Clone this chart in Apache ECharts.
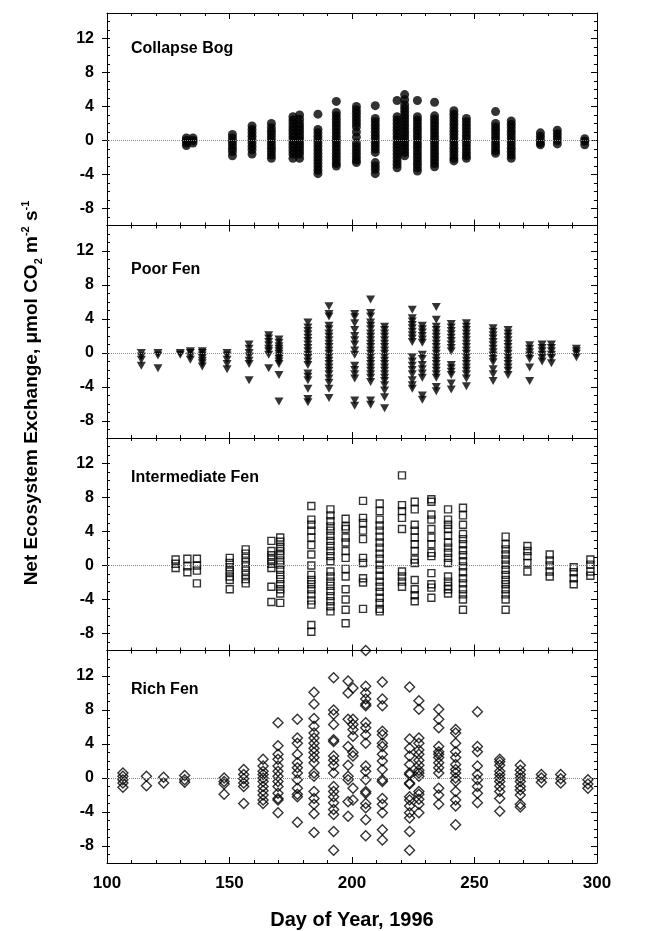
<!DOCTYPE html>
<html>
<head>
<meta charset="utf-8">
<script src="https://cdn.jsdelivr.net/npm/echarts@6/dist/echarts.min.js"></script>
<style>
  html, body { margin: 0; padding: 0; background: #fff; }
  #chart { width: 650px; height: 931px; }
</style>
</head>
<body>
<div id="chart"></div>
<script>
// ---- data (day of year, NEE umol CO2 m-2 s-1) ----
const panelNames = ['Collapse Bog', 'Poor Fen', 'Intermediate Fen', 'Rich Fen']

const xTickLabels = [100, 150, 200, 250, 300]
const yTickLabels = [-8, -4, 0, 4, 8, 12]

const bogDays = [132.4, 135.1, 151.2, 159.2, 167.1, 175.9, 178.6, 186.1, 193.6, 201.8, 209.5,
    218.4, 221.5, 226.7, 233.7, 241.6, 246.7, 258.6, 265, 276.9, 283.8, 295]
const bogValues = [
    [0.3, 0, -0.3, -0.6],
    [0.3, 0, -0.3],
    [0.7, 0.3, -0.1, -0.5, -0.9, -1.3, -1.8],
    [1.7, 1.3, 0.9, 0.5, 0.1, -0.3, -0.7, -1.1, -1.6],
    [2.0, 1.5, 1.1, 0.7, 0.3, -0.1, -0.5, -0.9, -1.3, -1.7, -2.1],
    [2.8, 2.4, 2.0, 1.6, 1.2, 0.8, 0.4, 0, -0.4, -0.8, -1.2, -1.6, -2.1],
    [3.0, 2.5, 2.0, 1.6, 1.2, 0.8, 0.4, 0, -0.4, -0.8, -1.2, -1.6, -2.1],
    [3.1, 1.3, 0.9, 0.5, 0.1, -0.3, -0.7, -1.1, -1.5, -1.9, -2.3, -2.7, -3.1, -3.5, -3.9],
    [4.6, 3.3, 2.9, 2.5, 2.1, 1.7, 1.3, 0.9, 0.5, 0.1, -0.3, -0.7, -1.1, -1.5, -1.9, -2.3, -2.7, -3.0],
    [4.0, 3.6, 3.2, 2.8, 2.4, 2.0, 1.6, 1.0, 0.4, -0.3, -0.7, -1.1, -1.5, -1.9, -2.3, -2.6],
    [4.1, 2.6, 2.2, 1.8, 1.4, 1.0, 0.6, 0.2, -0.2, -0.6, -1.0, -1.4, -2.6, -3.0, -3.4, -3.9],
    [4.7, 2.8, 2.4, 2.0, 1.6, 1.2, 0.8, 0.4, 0, -0.4, -0.8, -1.2, -1.6, -2.0, -2.4, -2.8, -3.2],
    [5.4, 4.8, 4.2, 3.8, 3.4, 3.0, 2.6, 2.2, 1.8, 1.4, 1.0, 0.6, 0.2, -0.2, -0.6, -1.0, -1.4, -1.8],
    [4.7, 2.8, 2.4, 2.0, 1.6, 1.2, 0.8, 0.4, 0, -0.4, -0.8, -1.2, -1.6, -2.0, -2.4, -2.8, -3.2, -3.6],
    [4.5, 2.9, 2.5, 2.1, 1.7, 1.3, 0.9, 0.5, 0.1, -0.3, -0.7, -1.1, -1.5, -1.9, -2.3, -2.7, -3.1],
    [3.5, 3.1, 2.7, 2.3, 1.9, 1.5, 1.1, 0.7, 0.3, -0.1, -0.5, -0.9, -1.3, -1.7, -2.1, -2.4],
    [2.6, 2.2, 1.8, 1.4, 1.0, 0.6, 0.2, -0.2, -0.6, -1.0, -1.4, -1.8, -2.1],
    [3.4, 2.0, 1.6, 1.2, 0.8, 0.4, 0, -0.4, -0.8, -1.2, -1.5],
    [2.3, 1.9, 1.5, 1.1, 0.7, 0.3, -0.1, -0.5, -0.9, -1.3, -1.7, -2.1],
    [0.9, 0.5, 0.1, -0.3, -0.5],
    [1.2, 0.8, 0.4, 0, -0.4],
    [0.2, -0.1, -0.5]
]

const poorDays = [114, 120.8, 129.9, 134, 138.9, 149, 158, 166, 170.2, 182, 190.6, 201.1, 207.6,
    213.3, 224.6, 228.7, 234.4, 240.5, 246.7, 257.6, 263.7, 272.5, 277.6, 281.4, 291.6]
const poorValues = [
    [0, -0.4, -0.8, -1.5],
    [0, -0.3, -1.8],
    [0, -0.2],
    [0.2, 0, -0.4, -0.8],
    [0.2, 0, -0.3, -0.6, -0.9, -1.2, -1.6],
    [0, -0.3, -0.8, -1.3, -1.9],
    [1.0, 0.5, 0, -0.4, -0.9, -1.3, -3.2],
    [2.1, 1.7, 1.3, 0.9, 0.5, 0.2, -0.2, -1.8],
    [1.6, 1.2, 0.8, 0.5, 0.2, -0.1, -0.4, -0.7, -1.0, -1.3, -2.6, -5.7],
    [3.6, 3.0, 2.6, 2.2, 1.8, 1.4, 1.0, 0.6, 0.2, -0.2, -0.6, -1.0, -1.4, -2.4, -2.8, -3.2, -4.2, -5.4, -5.8],
    [5.5, 4.6, 4.3, 3.2, 2.8, 2.3, 1.9, 1.5, 1.1, 0.7, 0.3, -0.1, -0.5, -0.9, -1.3, -1.7, -2.1, -2.5, -3.0, -3.5, -4.2, -5.3],
    [4.6, 4.2, 3.5, 2.7, 2.0, 1.5, 1.0, 0.3, -0.2, -1.5, -2.0, -2.5, -3.0, -5.6, -6.2],
    [6.3, 4.7, 4.3, 3.6, 3.2, 2.8, 2.3, 1.9, 1.5, 1.1, 0.7, 0.3, -0.1, -0.5, -0.9, -1.3, -1.7, -2.1, -2.5, -2.9, -3.4, -5.6, -6.1],
    [3.1, 2.7, 2.3, 1.9, 1.5, 1.1, 0.7, 0.3, -0.1, -0.5, -0.9, -1.3, -1.7, -2.1, -2.5, -2.9, -3.3, -3.8, -4.4, -5.2, -6.5],
    [5.1, 4.1, 3.7, 3.3, 2.9, 2.5, 2.1, 1.7, 1.3, -0.5, -1.0, -1.5, -2.0, -2.5, -3.2, -3.8, -4.2],
    [3.2, 2.8, 2.4, 2.0, 1.6, 1.2, -0.2, -0.7, -1.4, -1.9, -2.4, -2.9, -5.0, -5.5],
    [5.4, 3.9, 3.1, 2.7, 2.3, 1.9, 1.5, 1.1, 0.7, 0.3, -0.1, -0.5, -0.9, -1.3, -1.7, -2.1, -2.5, -2.9, -4.0, -4.5],
    [3.4, 3.0, 2.6, 2.2, 1.8, 1.4, 1.0, 0.6, 0.2, -1.4, -1.8, -2.2, -2.6, -3.6, -4.3],
    [3.5, 3.1, 2.7, 2.3, 1.9, 1.5, 1.1, 0.7, 0.3, -0.1, -0.5, -0.9, -1.3, -1.7, -2.1, -2.5, -3.0, -3.9],
    [2.9, 2.5, 2.1, 1.7, 1.3, 0.9, 0.5, 0.1, -0.3, -0.7, -1.1, -1.9, -2.5, -3.3],
    [2.7, 2.3, 1.9, 1.5, 1.1, 0.7, 0.3, -0.1, -0.5, -0.9, -1.3, -1.7, -2.1, -2.6],
    [0.9, 0.5, 0.1, -0.3, -0.7, -1.7, -3.3],
    [1.0, 0.6, 0.2, -0.2, -0.6, -1.0],
    [1.0, 0.6, 0.2, -0.2, -0.6, -1.2],
    [0.5, 0.2, -0.1, -0.5]
]

const interDays = [128, 132.8, 136.7, 150.1, 156.6, 167.1, 170.7, 183.4, 191.2, 197.4, 204.5,
    211.3, 220.4, 225.6, 232.4, 239.2, 245.3, 262.7, 271.6, 280.7, 290.5, 297.3]
const interValues = [
    [0.7, 0.2, -0.3],
    [0.8, -0.1, -0.8],
    [0.8, 0, -0.6, -2.1],
    [0.9, 0.3, -0.2, -0.7, -1.3, -1.7, -2.8],
    [1.9, 1.4, 0.9, 0.4, -0.1, -0.6, -1.1, -1.6, -2.1],
    [2.9, 1.7, 1.2, 0.7, 0.2, -0.3, -2.5, -4.3],
    [3.3, 2.8, 2.2, 1.7, 1.2, 0.6, 0.1, -0.5, -1.1, -1.6, -2.2, -2.8, -3.3, -4.4],
    [7.0, 5.4, 4.8, 4.1, 3.3, 2.4, 1.3, 0.0, -1.1, -1.7, -2.2, -2.8, -3.4, -4.1, -4.6, -7.0, -7.8],
    [6.6, 5.9, 5.2, 4.6, 4.1, 3.5, 2.9, 2.3, 1.7, 1.1, 0.5, -0.7, -1.3, -1.9, -2.4, -3.0, -3.6, -4.2, -4.8, -5.4],
    [5.5, 4.6, 4.3, 3.3, 2.7, 1.7, 0.9, -0.4, -1.3, -2.8, -4.0, -5.2, -6.8],
    [7.6, 5.6, 5.0, 4.1, 3.1, 0.9, 0.3, -1.5, -2.0, -5.1],
    [7.3, 6.4, 5.4, 4.7, 4.1, 3.4, 2.7, 2.1, 1.4, 0.8, 0.1, -0.5, -1.2, -1.9, -2.5, -3.1, -3.8, -4.4, -5.1, -5.4],
    [10.6, 7.1, 6.4, 5.6, 4.3, -0.7, -1.3, -1.9, -2.5],
    [7.5, 6.6, 4.8, 4.1, 3.3, 2.5, 1.7, 0.7, 0.3, -1.7, -2.8, -3.5, -4.2],
    [7.8, 7.5, 6.0, 5.4, 4.3, 3.3, 2.5, 1.5, 1.1, -0.9, -2.2, -2.6, -3.8],
    [6.6, 5.4, 4.8, 4.3, 3.5, 2.7, 2.1, 1.5, 0.9, 0.3, -1.3, -1.9, -2.4, -2.8, -3.3],
    [6.8, 5.9, 4.8, 3.7, 3.1, 2.5, 1.8, 1.2, 0.5, -0.1, -0.8, -1.5, -2.1, -2.8, -3.4, -4.0, -5.2],
    [3.4, 2.5, 1.9, 1.3, 0.7, 0.1, -0.5, -1.1, -1.7, -2.2, -2.8, -3.4, -4.0, -5.2],
    [2.3, 1.7, 1.1, 0.3, -0.7],
    [1.3, 0.6, 0, -0.7, -1.3],
    [-0.2, -0.8, -1.5, -2.2],
    [0.7, 0.1, -0.7, -1.2]
]

const richDays = [106.5, 116.1, 123.1, 131.7, 147.8, 155.8, 163.7, 169.8, 177.7, 184.5, 192.5,
    198.4, 200.4, 205.6, 212.4, 223.5, 227.3, 235.4, 242.3, 251.2, 260.3, 268.7, 277.3, 285.2, 296.3]
const richValues = [
    [0.6, 0.2, -0.2, -0.6, -1.1],
    [0.2, -0.9],
    [0.1, -0.6],
    [0.3, -0.2, -0.5],
    [0, -0.4, -0.7, -1.9],
    [1.0, 0.4, -0.1, -0.6, -1.0, -3.0],
    [2.2, 1.4, 0.8, 0.4, 0, -0.4, -1.0, -1.5, -2.0, -2.6, -3.0],
    [6.5, 3.8, 2.8, 2.2, 1.4, 0.8, 0.2, -0.4, -1.0, -1.8, -2.4, -2.6, -4.1],
    [6.9, 4.7, 4.1, 2.8, 1.8, 1.2, 0.6, -0.2, -1.2, -1.9, -2.2, -5.2],
    [10.1, 8.7, 7.0, 6.1, 5.3, 4.7, 4.1, 3.5, 3.0, 2.4, 1.8, 0.6, 0.2, -1.6, -2.4, -3.1, -4.2, -6.4],
    [11.8, 8.0, 7.5, 6.3, 4.5, 4.3, 2.6, 2.1, 1.5, 0.6, -1.0, -1.6, -2.2, -2.9, -3.7, -4.3, -6.3, -8.5],
    [11.4, 10.0, 6.9, 3.7, 1.5, 0.2, -0.2, -2.8, -4.5],
    [10.6, 6.9, 6.3, 5.7, 4.9, 3.0, 2.6, -1.2, -2.6],
    [15, 10.8, 10.0, 9.3, 8.7, 8.5, 6.5, 5.9, 5.1, 4.1, 1.4, 0.8, -0.2, -1.6, -1.8, -3.0, -3.5, -4.9, -6.8],
    [11.3, 9.3, 8.5, 5.5, 5.1, 4.1, 3.7, 2.8, 2.0, 1.0, -0.2, -0.4, -2.4, -3.1, -4.1, -6.1, -7.3],
    [10.7, 4.6, 3.5, 2.6, 1.6, 0.6, 0.4, -0.6, -0.7, -2.2, -2.6, -3.3, -4.1, -4.7, -6.3, -8.5],
    [9.1, 8.1, 4.7, 4.1, 3.3, 2.8, 2.1, 1.5, 0.9, 0.6, 0.2, -1.6, -1.9, -2.5, -3.1, -4.1],
    [8.1, 6.9, 5.9, 3.7, 3.1, 2.8, 2.4, 1.8, 1.2, 0.6, -1.2, -2.0, -3.1],
    [5.7, 5.3, 4.1, 3.1, 2.4, 1.6, 1.0, 0.6, 0, -0.4, -1.6, -2.6, -3.3, -5.5],
    [7.8, 3.7, 3.1, 1.4, 0.4, -0.2, -1.0, -1.8, -2.9],
    [2.2, 1.9, 1.5, 0.8, 0.4, 0, -0.4, -1.0, -1.6, -2.4, -3.9],
    [1.5, 0.9, 0.4, 0, -0.4, -1.0, -1.4, -2.0, -3.1, -3.4],
    [0.4, 0, -0.5],
    [0.4, -0.1, -0.6],
    [-0.2, -0.7, -1.2]
]

// ---- build ----
function toPoints(days, values){
    let pts = []
    days.forEach((d, i) => {
        values[i].forEach(v => pts.push([d, v]))
    })
    return pts
}

const panels = [
    { data: toPoints(bogDays, bogValues), symbol: 'circle', size: 9, filled: true, rotate: 0 },
    { data: toPoints(poorDays, poorValues), symbol: 'triangle', size: [9, 8], filled: true, rotate: 180 },
    { data: toPoints(interDays, interValues), symbol: 'rect', size: 7, filled: false, rotate: 0 },
    { data: toPoints(richDays, richValues), symbol: 'diamond', size: [10, 10], filled: false, rotate: 0 }
]

const tops = [13, 225.5, 438, 650.5]
const labelY = [49, 270, 478, 690]
const majorY = yTickLabels
const tickFont = { color: '#000', fontFamily: 'Liberation Sans, Arial', fontWeight: 'bold' }

let grids = [], xAxes = [], yAxes = [], series = [], graphics = []

panels.forEach((p, i) => {
    const last = i === panels.length - 1
    grids.push({ left: 107, right: 53, top: tops[i], height: 212.5 })

    ;['bottom', 'top'].forEach(pos => {
        xAxes.push({
            gridIndex: i, type: 'value', position: pos,
            min: 100, max: 300, interval: 50,
            axisLine: { onZero: false, lineStyle: { color: '#000', width: 1 } },
            axisTick: { inside: true, length: 6, lineStyle: { color: '#000', width: 1 } },
            minorTick: { show: true, splitNumber: 5, length: 3, lineStyle: { color: '#000', width: 1 } },
            splitLine: { show: false },
            minorSplitLine: { show: false },
            axisLabel: Object.assign({ show: last && pos === 'bottom', fontSize: 17, margin: 12,
                customValues: xTickLabels }, tickFont)
        })
    })

    // left: minor ticks every unit + labels, then major ticks outside
    yAxes.push({
        gridIndex: i, type: 'value', position: 'left', min: -10, max: 15, interval: 1,
        axisLine: { onZero: false, lineStyle: { color: '#000', width: 1 } },
        axisTick: { inside: true, length: 3, lineStyle: { color: '#000' } },
        splitLine: { show: false },
        axisLabel: Object.assign({ fontSize: 16, margin: 13, customValues: yTickLabels }, tickFont)
    })
    yAxes.push({
        gridIndex: i, type: 'value', position: 'left', min: -10, max: 15, interval: 1,
        axisLine: { show: false, onZero: false },
        axisTick: { inside: false, length: 5, customValues: majorY, lineStyle: { color: '#000' } },
        splitLine: { show: false },
        axisLabel: { show: false }
    })
    // right border ticks
    yAxes.push({
        gridIndex: i, type: 'value', position: 'right', min: -10, max: 15, interval: 1,
        axisLine: { onZero: false, lineStyle: { color: '#000', width: 1 } },
        axisTick: { inside: true, length: 3, lineStyle: { color: '#000' } },
        splitLine: { show: false },
        axisLabel: { show: false }
    })
    yAxes.push({
        gridIndex: i, type: 'value', position: 'right', min: -10, max: 15, interval: 1,
        axisLine: { show: false, onZero: false },
        axisTick: { inside: true, length: 6, customValues: majorY, lineStyle: { color: '#000' } },
        splitLine: { show: false },
        axisLabel: { show: false }
    })

    series.push({
        type: 'scatter',
        xAxisIndex: 2 * i,
        yAxisIndex: 4 * i,
        data: p.data,
        symbol: p.symbol,
        symbolSize: p.size,
        symbolRotate: p.rotate,
        clip: false,
        silent: true,
        animation: false,
        itemStyle: p.filled
            ? { color: '#000', borderWidth: 0 }
            : { color: 'rgba(0,0,0,0)', borderColor: '#000', borderWidth: 1.4 },
        markLine: {
            silent: true,
            symbol: ['none', 'none'],
            label: { show: false },
            lineStyle: { type: 'dotted', color: '#888', width: 1 },
            data: [{ yAxis: 0 }],
            animation: false
        }
    })

    graphics.push({
        type: 'text', x: 131, y: labelY[i],
        style: { text: panelNames[i], fill: '#000', font: 'bold 16px "Liberation Sans", Arial',
            verticalAlign: 'middle' }
    })
})

graphics.push({
    type: 'text', x: 352, y: 920,
    style: { text: 'Day of Year, 1996', fill: '#000', font: 'bold 20px "Liberation Sans", Arial',
        align: 'center', verticalAlign: 'middle' }
})
graphics.push({
    type: 'text', x: 32, y: 393, rotation: Math.PI / 2,
    style: {
        text: 'Net Ecosystem Exchange, μmol CO{sub|2} m{sup|-2} s{sup|-1}',
        fill: '#000',
        fontFamily: 'Liberation Sans, Arial', fontWeight: 'bold', fontSize: 19,
        lineHeight: 24,
        align: 'center', verticalAlign: 'middle',
        rich: {
            sub: { fontFamily: 'Liberation Sans, Arial', fontWeight: 'bold', fontSize: 11, lineHeight: 12, verticalAlign: 'bottom' },
            sup: { fontFamily: 'Liberation Sans, Arial', fontWeight: 'bold', fontSize: 11, lineHeight: 12, verticalAlign: 'top' }
        }
    }
})

let myChart = echarts.init(document.getElementById('chart'))
myChart.setOption({
    animation: false,
    backgroundColor: '#fff',
    grid: grids,
    xAxis: xAxes,
    yAxis: yAxes,
    series: series,
    graphic: graphics
})
</script>
</body>
</html>
